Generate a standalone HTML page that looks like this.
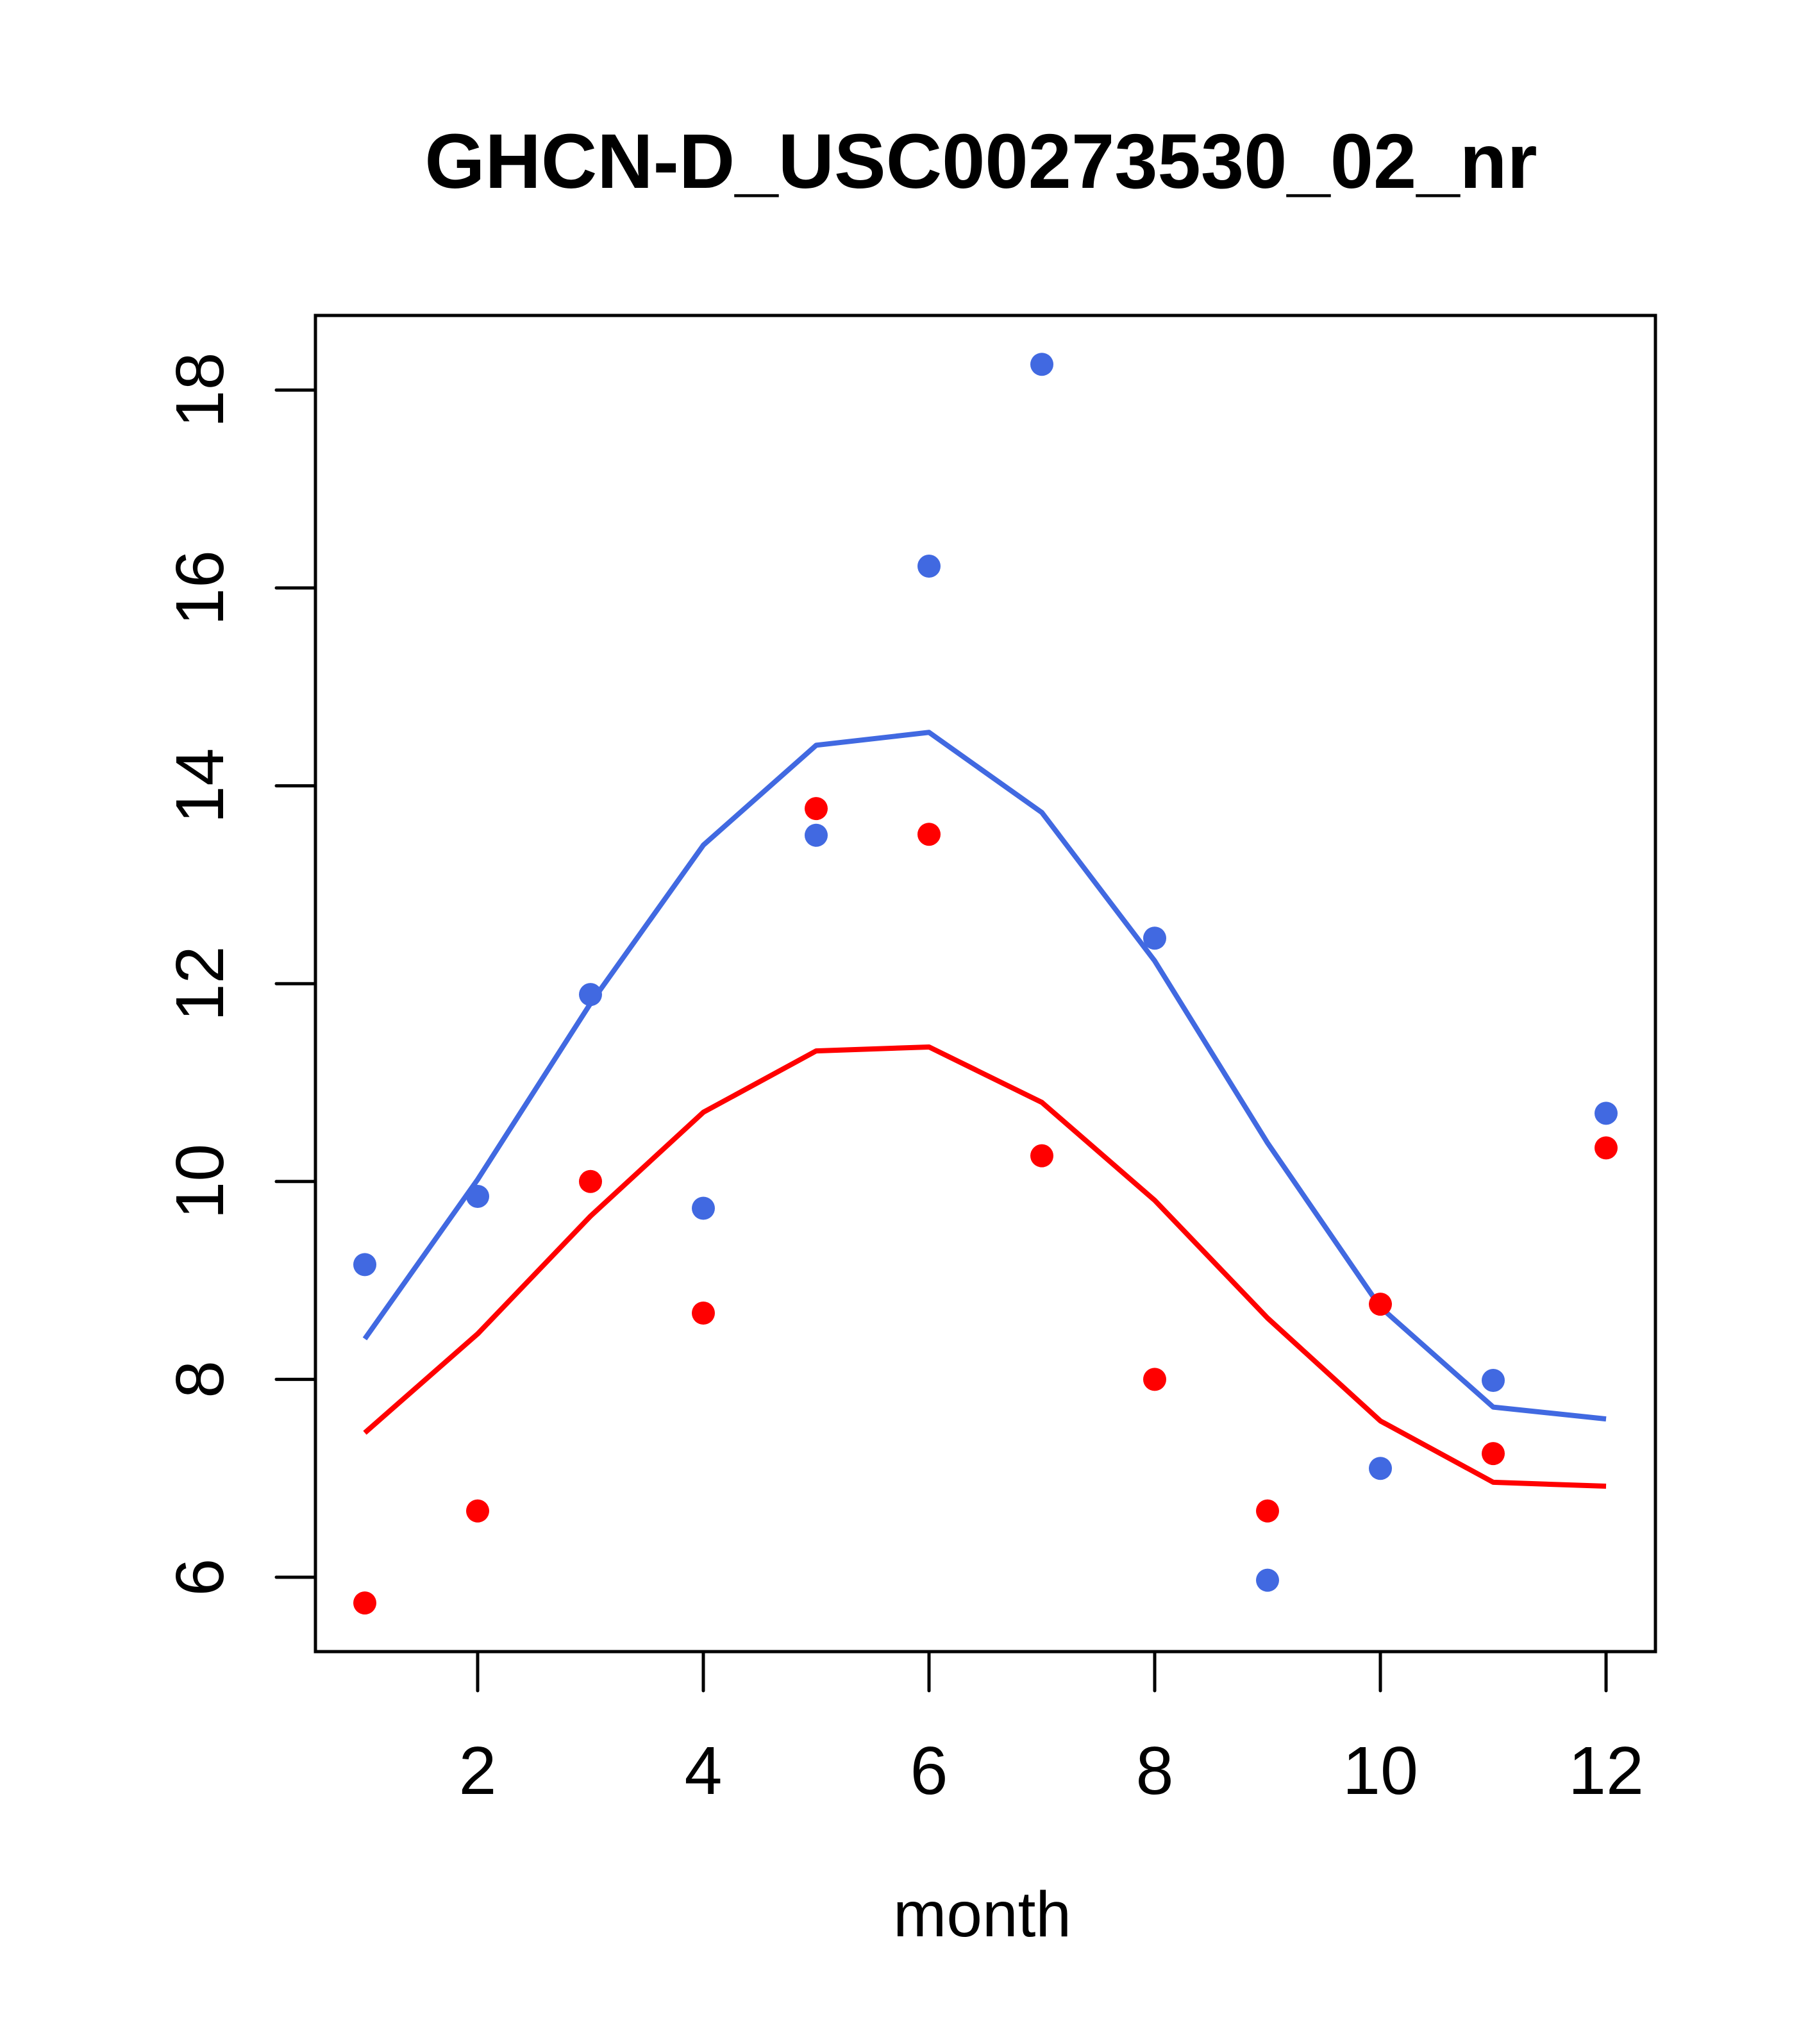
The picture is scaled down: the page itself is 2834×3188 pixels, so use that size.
<!DOCTYPE html>
<html><head><meta charset="utf-8"><style>html,body{margin:0;padding:0;background:#fff}svg{display:block}</style></head>
<body>
<svg id="chart" width="2834" height="3188" viewBox="0 0 2834 3188" xmlns="http://www.w3.org/2000/svg" font-family="Liberation Sans, Arial, sans-serif">
<rect width="2834" height="3188" fill="#fff"/>
<text x="1530" y="293" text-anchor="middle" font-size="121" font-weight="bold">GHCN-D_USC00273530_02_nr</text>
<g id="marks"></g>
<rect x="492" y="492" width="2090" height="2084" fill="none" stroke="#000" stroke-width="5"/>
<g id="axes"></g>
<text x="1532" y="3020" text-anchor="middle" font-size="100">month</text>
</svg>
<script>
const months = [1,2,3,4,5,6,7,8,9,10,11,12];
const bluePoints = [9.16,9.85,11.89,9.73,13.50,16.22,18.26,12.46,5.97,7.10,7.99,10.69];
const redPoints = [5.74,6.67,10.00,8.67,13.77,13.51,10.26,8.00,6.67,8.76,7.25,10.34];
const blueLine = [8.41,10.02,11.80,13.40,14.41,14.54,13.73,12.23,10.39,8.73,7.72,7.60];
const redLine = [7.46,8.46,9.65,10.70,11.32,11.36,10.80,9.81,8.62,7.58,6.96,6.92];
const xTicks = [2,4,6,8,10,12];
const yTicks = [6,8,10,12,14,16,18];

const NS='http://www.w3.org/2000/svg';
const X = m => 569 + (m-1)*176;
const Y = v => 2460 - (v-6)*154.3;
const marks=document.getElementById('marks'), axes=document.getElementById('axes');
function mk(tag, parent, attrs){const e=document.createElementNS(NS,tag);for(const k in attrs)e.setAttribute(k,attrs[k]);parent.appendChild(e);return e;}

function line(vals,color,name){
  const p=mk('polyline',marks,{points:vals.map((v,i)=>X(months[i])+','+Y(v)).join(' '),fill:'none',stroke:color,'stroke-width':8,'stroke-linejoin':'round'});
  
  
}
function pts(vals,color,name){
  vals.forEach((v,i)=>{
    const c=mk('circle',marks,{cx:X(months[i]),cy:Y(v),r:18,fill:color});
    
    
  });
}
line(blueLine,'#4169e1','blue-line');
line(redLine,'#ff0000','red-line');
pts(bluePoints,'#4169e1','blue-point');
pts(redPoints,'#ff0000','red-point');

xTicks.forEach(t=>{
  const l=mk('line',axes,{x1:X(t),x2:X(t),y1:2576,y2:2637,stroke:'#000','stroke-width':5,'stroke-linecap':'round'});
  
  
  const tx=mk('text',axes,{x:X(t),y:2798,'text-anchor':'middle','font-size':106});
  tx.textContent=t;
  
  
});
yTicks.forEach(t=>{
  const l=mk('line',axes,{x1:431,x2:492,y1:Y(t),y2:Y(t),stroke:'#000','stroke-width':5,'stroke-linecap':'round'});
  
  
  const tx=mk('text',axes,{x:0,y:0,'text-anchor':'middle','font-size':106,transform:'translate(348,'+Y(t)+') rotate(-90)'});
  tx.textContent=t;
  
  
});
</script>
</body></html>
